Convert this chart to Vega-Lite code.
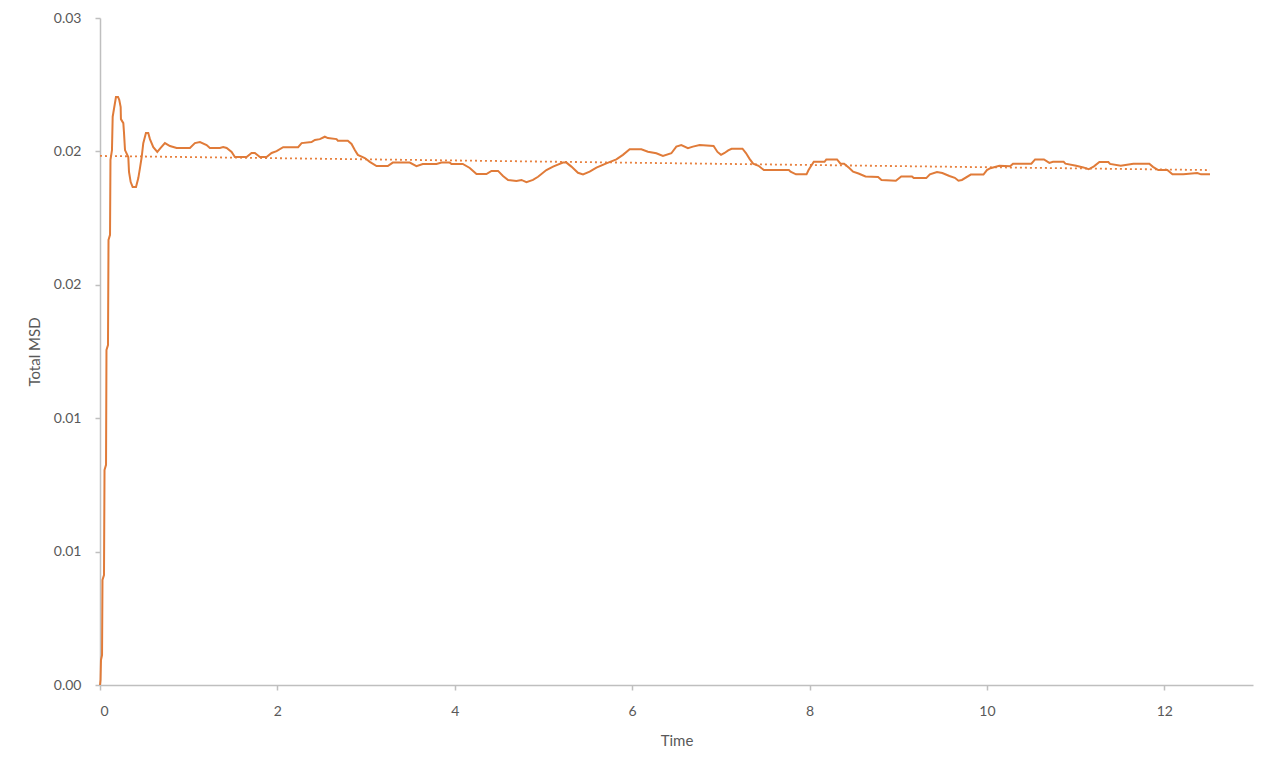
{
  "$schema": "https://vega.github.io/schema/vega-lite/v6.json",
  "autosize": {"type": "none"},
  "width": 1153,
  "height": 667,
  "padding": {"left": 100, "top": 18, "right": 27, "bottom": 85},
  "background": "white",
  "config": {
    "view": {"stroke": null},
    "axis": {
      "grid": false,
      "domainColor": "#bfbfbf",
      "domainWidth": 1.5,
      "tickColor": "#bfbfbf",
      "tickWidth": 1.5,
      "tickSize": 5,
      "labelColor": "#595959",
      "labelFont": "Lato",
      "labelFontSize": 14,
      "titleColor": "#595959",
      "titleFont": "Lato",
      "titleFontSize": 15,
      "titleFontWeight": "normal"
    }
  },
  "datasets": {
    "msd": [
      {"t": 0, "v": 0},
      {"t": 0.006, "v": 0.00019},
      {"t": 0.011, "v": 0.00094},
      {"t": 0.023, "v": 0.00112},
      {"t": 0.028, "v": 0.00394},
      {"t": 0.045, "v": 0.00412},
      {"t": 0.051, "v": 0.00806},
      {"t": 0.068, "v": 0.00825},
      {"t": 0.073, "v": 0.01256},
      {"t": 0.09, "v": 0.01274},
      {"t": 0.096, "v": 0.01668},
      {"t": 0.113, "v": 0.01687},
      {"t": 0.118, "v": 0.01968},
      {"t": 0.135, "v": 0.02005},
      {"t": 0.143, "v": 0.0213},
      {"t": 0.15, "v": 0.02144},
      {"t": 0.18, "v": 0.02204},
      {"t": 0.203, "v": 0.02204},
      {"t": 0.217, "v": 0.02193},
      {"t": 0.233, "v": 0.02166},
      {"t": 0.236, "v": 0.02121},
      {"t": 0.263, "v": 0.02106},
      {"t": 0.27, "v": 0.02073},
      {"t": 0.282, "v": 0.02005},
      {"t": 0.319, "v": 0.01979},
      {"t": 0.327, "v": 0.01923},
      {"t": 0.346, "v": 0.01885},
      {"t": 0.368, "v": 0.01867},
      {"t": 0.406, "v": 0.01867},
      {"t": 0.432, "v": 0.019},
      {"t": 0.451, "v": 0.01938},
      {"t": 0.47, "v": 0.01979},
      {"t": 0.488, "v": 0.02031},
      {"t": 0.518, "v": 0.02069},
      {"t": 0.544, "v": 0.02069},
      {"t": 0.563, "v": 0.02046},
      {"t": 0.601, "v": 0.02016},
      {"t": 0.646, "v": 0.01998},
      {"t": 0.684, "v": 0.02013},
      {"t": 0.732, "v": 0.02031},
      {"t": 0.789, "v": 0.0202},
      {"t": 0.864, "v": 0.02013},
      {"t": 1.014, "v": 0.02013},
      {"t": 1.07, "v": 0.02031},
      {"t": 1.127, "v": 0.02035},
      {"t": 1.202, "v": 0.02024},
      {"t": 1.239, "v": 0.02013},
      {"t": 1.352, "v": 0.02013},
      {"t": 1.389, "v": 0.02016},
      {"t": 1.428, "v": 0.02013},
      {"t": 1.484, "v": 0.01998},
      {"t": 1.521, "v": 0.01979},
      {"t": 1.653, "v": 0.01979},
      {"t": 1.709, "v": 0.01994},
      {"t": 1.746, "v": 0.01994},
      {"t": 1.803, "v": 0.01979},
      {"t": 1.878, "v": 0.01979},
      {"t": 1.935, "v": 0.01994},
      {"t": 1.991, "v": 0.02001},
      {"t": 2.065, "v": 0.02016},
      {"t": 2.234, "v": 0.02016},
      {"t": 2.273, "v": 0.02031},
      {"t": 2.385, "v": 0.02035},
      {"t": 2.423, "v": 0.02043},
      {"t": 2.479, "v": 0.02046},
      {"t": 2.535, "v": 0.02055},
      {"t": 2.569, "v": 0.0205},
      {"t": 2.667, "v": 0.02046},
      {"t": 2.682, "v": 0.0204},
      {"t": 2.794, "v": 0.0204},
      {"t": 2.836, "v": 0.02028},
      {"t": 2.873, "v": 0.02005},
      {"t": 2.907, "v": 0.01987},
      {"t": 2.986, "v": 0.01975},
      {"t": 3.042, "v": 0.01961},
      {"t": 3.118, "v": 0.01945},
      {"t": 3.245, "v": 0.01945},
      {"t": 3.301, "v": 0.01958},
      {"t": 3.493, "v": 0.01958},
      {"t": 3.568, "v": 0.01945},
      {"t": 3.639, "v": 0.01953},
      {"t": 3.794, "v": 0.01953},
      {"t": 3.85, "v": 0.01958},
      {"t": 3.944, "v": 0.01958},
      {"t": 3.963, "v": 0.01953},
      {"t": 4.09, "v": 0.01953},
      {"t": 4.169, "v": 0.01938},
      {"t": 4.245, "v": 0.01915},
      {"t": 4.357, "v": 0.01915},
      {"t": 4.414, "v": 0.01927},
      {"t": 4.488, "v": 0.01927},
      {"t": 4.544, "v": 0.01908},
      {"t": 4.601, "v": 0.01893},
      {"t": 4.695, "v": 0.01889},
      {"t": 4.752, "v": 0.01893},
      {"t": 4.808, "v": 0.01885},
      {"t": 4.882, "v": 0.01893},
      {"t": 4.939, "v": 0.01905},
      {"t": 5.033, "v": 0.0193},
      {"t": 5.108, "v": 0.01943},
      {"t": 5.22, "v": 0.01958},
      {"t": 5.259, "v": 0.01958},
      {"t": 5.315, "v": 0.01943},
      {"t": 5.389, "v": 0.0192},
      {"t": 5.446, "v": 0.01914},
      {"t": 5.521, "v": 0.01924},
      {"t": 5.597, "v": 0.01939},
      {"t": 5.709, "v": 0.01955},
      {"t": 5.822, "v": 0.0197},
      {"t": 5.896, "v": 0.01987},
      {"t": 5.972, "v": 0.02008},
      {"t": 6.104, "v": 0.02008},
      {"t": 6.178, "v": 0.01999},
      {"t": 6.273, "v": 0.01993},
      {"t": 6.347, "v": 0.01983},
      {"t": 6.442, "v": 0.01993},
      {"t": 6.498, "v": 0.02018},
      {"t": 6.554, "v": 0.02024},
      {"t": 6.629, "v": 0.02012},
      {"t": 6.685, "v": 0.02018},
      {"t": 6.761, "v": 0.02024},
      {"t": 6.918, "v": 0.0202},
      {"t": 6.962, "v": 0.01998},
      {"t": 7.002, "v": 0.01987},
      {"t": 7.042, "v": 0.01994},
      {"t": 7.083, "v": 0.02004},
      {"t": 7.121, "v": 0.0201},
      {"t": 7.244, "v": 0.0201},
      {"t": 7.283, "v": 0.01994},
      {"t": 7.324, "v": 0.01972},
      {"t": 7.364, "v": 0.01954},
      {"t": 7.425, "v": 0.01946},
      {"t": 7.485, "v": 0.0193},
      {"t": 7.767, "v": 0.0193},
      {"t": 7.786, "v": 0.01924},
      {"t": 7.847, "v": 0.01914},
      {"t": 7.966, "v": 0.01914},
      {"t": 7.989, "v": 0.0193},
      {"t": 8.048, "v": 0.01961},
      {"t": 8.169, "v": 0.01961},
      {"t": 8.189, "v": 0.0197},
      {"t": 8.31, "v": 0.0197},
      {"t": 8.349, "v": 0.01954},
      {"t": 8.39, "v": 0.01954},
      {"t": 8.451, "v": 0.01937},
      {"t": 8.491, "v": 0.01924},
      {"t": 8.552, "v": 0.01917},
      {"t": 8.631, "v": 0.01906},
      {"t": 8.773, "v": 0.01904},
      {"t": 8.811, "v": 0.01893},
      {"t": 8.973, "v": 0.0189},
      {"t": 9.034, "v": 0.01906},
      {"t": 9.155, "v": 0.01906},
      {"t": 9.175, "v": 0.019},
      {"t": 9.316, "v": 0.019},
      {"t": 9.357, "v": 0.01914},
      {"t": 9.437, "v": 0.01923},
      {"t": 9.497, "v": 0.01919},
      {"t": 9.577, "v": 0.01908},
      {"t": 9.638, "v": 0.01901},
      {"t": 9.679, "v": 0.0189},
      {"t": 9.718, "v": 0.01893},
      {"t": 9.818, "v": 0.01913},
      {"t": 9.961, "v": 0.01913},
      {"t": 10.0, "v": 0.0193},
      {"t": 10.039, "v": 0.01937},
      {"t": 10.141, "v": 0.01946},
      {"t": 10.262, "v": 0.01944},
      {"t": 10.294, "v": 0.01954},
      {"t": 10.501, "v": 0.01954},
      {"t": 10.543, "v": 0.0197},
      {"t": 10.643, "v": 0.0197},
      {"t": 10.704, "v": 0.01957},
      {"t": 10.745, "v": 0.01961},
      {"t": 10.865, "v": 0.01961},
      {"t": 10.885, "v": 0.01954},
      {"t": 11.006, "v": 0.01946},
      {"t": 11.087, "v": 0.0194},
      {"t": 11.147, "v": 0.01933},
      {"t": 11.207, "v": 0.01944},
      {"t": 11.268, "v": 0.0196},
      {"t": 11.369, "v": 0.0196},
      {"t": 11.388, "v": 0.01953},
      {"t": 11.509, "v": 0.01946},
      {"t": 11.651, "v": 0.01954},
      {"t": 11.831, "v": 0.01954},
      {"t": 11.872, "v": 0.01942},
      {"t": 11.932, "v": 0.0193},
      {"t": 12.034, "v": 0.0193},
      {"t": 12.092, "v": 0.01914},
      {"t": 12.214, "v": 0.01914},
      {"t": 12.372, "v": 0.01919},
      {"t": 12.414, "v": 0.01914},
      {"t": 12.515, "v": 0.01914}
    ],
    "trend": [
      {"t": 0, "v": 0.01983},
      {"t": 12.515, "v": 0.0193}
    ]
  },
  "encoding": {
    "x": {
      "field": "t",
      "type": "quantitative",
      "scale": {"domain": [0, 13], "nice": false, "zero": false},
      "axis": {
        "title": "Time",
        "values": [0, 2, 4, 6, 8, 10, 12],
        "labelPadding": 14,
        "titlePadding": 15
      }
    },
    "y": {
      "field": "v",
      "type": "quantitative",
      "scale": {"domain": [0, 0.025], "nice": false},
      "axis": {
        "title": "Total MSD",
        "values": [0, 0.005, 0.01, 0.015, 0.02, 0.025],
        "labelExpr": "format(round(datum.value * 100 + 0.0001) / 100, '.2f')",
        "labelPadding": 14,
        "titlePadding": 11
      }
    }
  },
  "layer": [
    {
      "data": {"name": "trend"},
      "mark": {"type": "line", "color": "#E8813F", "strokeWidth": 1.8, "strokeDash": [2, 3]}
    },
    {
      "data": {"name": "msd"},
      "mark": {"type": "line", "color": "#E07B39", "strokeWidth": 2}
    }
  ]
}
